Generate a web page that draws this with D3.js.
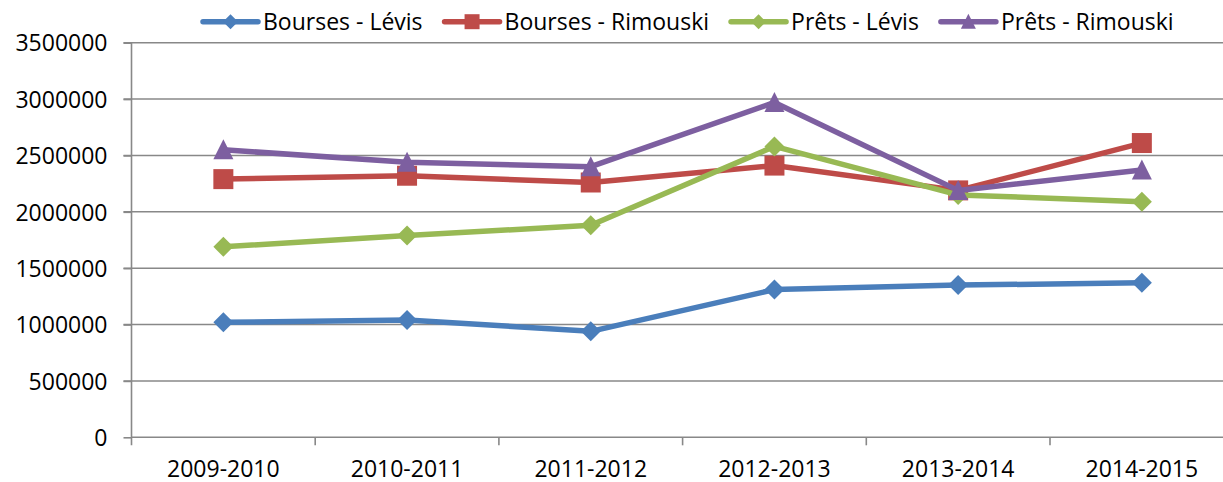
<!DOCTYPE html>
<html>
<head>
<meta charset="utf-8">
<script src="https://d3js.org/d3.v7.min.js"></script>
<style>
  body { margin: 0; background: #fff; }
  text { font-family: "Open Sans", sans-serif; fill: #000; }
  .grid line { stroke: #888; stroke-width: 1.6; }
  .axis path, .axis line { stroke: #888; stroke-width: 1.6; }
  .axis text { font-size: 23px; }
  .series { fill: none; stroke-width: 5.5; stroke-linejoin: round; }
  .legend text { font-size: 23px; }
</style>
</head>
<body>
<script>
var years = ["2009-2010", "2010-2011", "2011-2012", "2012-2013", "2013-2014", "2014-2015"];
var yTicks = [0, 500000, 1000000, 1500000, 2000000, 2500000, 3000000, 3500000];

var boursesLevis    = [1020000, 1040000, 940000, 1310000, 1350000, 1370000];
var boursesRimouski = [2290000, 2320000, 2260000, 2410000, 2190000, 2610000];
var pretsLevis      = [1690000, 1790000, 1880000, 2580000, 2150000, 2090000];
var pretsRimouski   = [2550000, 2440000, 2400000, 2970000, 2190000, 2370000];

var seriesNames  = ["Bourses - Lévis", "Bourses - Rimouski", "Prêts - Lévis", "Prêts - Rimouski"];
var seriesColors = ["#4a7ebb", "#be4b48", "#98b954", "#7d5fa0"];
var seriesShapes = ["diamond", "square", "diamond", "triangle"];
var seriesValues = [boursesLevis, boursesRimouski, pretsLevis, pretsRimouski];

var svgWidth = 1223, svgHeight = 482;
var plotLeft = 131.5, plotTop = 42.7, plotBottom = 437.3, plotRight = 1233.7;

var svg = d3.select("body").append("svg")
    .attr("width", svgWidth)
    .attr("height", svgHeight);

var x = d3.scaleBand().domain(years).range([plotLeft, plotRight]);
var y = d3.scaleLinear().domain([0, 3500000]).range([plotBottom, plotTop]);

// marker path centred on 0,0
function marker(shape, s) {
    var h = s / 2;
    if (shape == "diamond") return "M0," + (-h) + "L" + h + ",0L0," + h + "L" + (-h) + ",0Z";
    if (shape == "square") return "M" + (-h) + "," + (-h) + "h" + s + "v" + s + "h" + (-s) + "Z";
    return "M0," + (-h * 1.05) + "L" + h + "," + (h * 0.95) + "L" + (-h) + "," + (h * 0.95) + "Z";
}

// horizontal gridlines
svg.append("g").attr("class", "grid")
    .selectAll("line").data(yTicks.slice(1)).enter().append("line")
    .attr("x1", plotLeft - 8).attr("x2", svgWidth)
    .attr("y1", d => y(d)).attr("y2", d => y(d));

// y axis
var yAxis = svg.append("g").attr("class", "axis")
    .attr("transform", "translate(" + plotLeft + ",0)")
    .call(d3.axisLeft(y).tickValues(yTicks).tickFormat(d3.format("d")).tickSizeInner(8).tickSizeOuter(0).tickPadding(16));
yAxis.select(".domain").attr("d", "M0," + plotTop + "V" + (plotBottom + 8));
yAxis.selectAll("text").attr("dy", "0.36em");

// x axis
var xAxis = svg.append("g").attr("class", "axis")
    .attr("transform", "translate(0," + plotBottom + ")")
    .call(d3.axisBottom(x).tickSize(0).tickPadding(23));
xAxis.select(".domain").attr("d", "M" + plotLeft + ",0H" + svgWidth);
xAxis.selectAll(".tick line").remove();
xAxis.selectAll(".bound").data(years.slice(1)).enter().append("line")
    .attr("x1", d => x(d)).attr("x2", d => x(d))
    .attr("y1", 0).attr("y2", 8);

var line = d3.line()
    .x((d, i) => x(years[i]) + x.bandwidth() / 2)
    .y(d => y(d));

seriesValues.forEach(function (vals, k) {
    var g = svg.append("g");
    g.append("path")
        .datum(vals)
        .attr("class", "series")
        .attr("stroke", seriesColors[k])
        .attr("d", line);
    g.selectAll(".pt").data(vals).enter().append("path")
        .attr("transform", (d, i) => "translate(" + (x(years[i]) + x.bandwidth() / 2) + "," + y(d) + ")")
        .attr("d", marker(seriesShapes[k], 20))
        .attr("fill", seriesColors[k]);
});

// legend
var legend = svg.append("g").attr("class", "legend");
var lx = 203, ly = 21.7;
seriesNames.forEach(function (name, k) {
    var item = legend.append("g");
    item.append("line")
        .attr("x1", lx).attr("x2", lx + 55)
        .attr("y1", ly).attr("y2", ly)
        .attr("stroke", seriesColors[k]).attr("stroke-width", 5.5)
        .attr("stroke-linecap", "round");
    item.append("path")
        .attr("transform", "translate(" + (lx + 27.5) + "," + ly + ")")
        .attr("d", marker(seriesShapes[k], 15))
        .attr("fill", seriesColors[k]);
    var t = item.append("text")
        .attr("x", lx + 60).attr("y", ly + 8.2)
        .text(name);
    lx = lx + 60 + t.node().getComputedTextLength() + 22;
});
</script>
</body>
</html>
